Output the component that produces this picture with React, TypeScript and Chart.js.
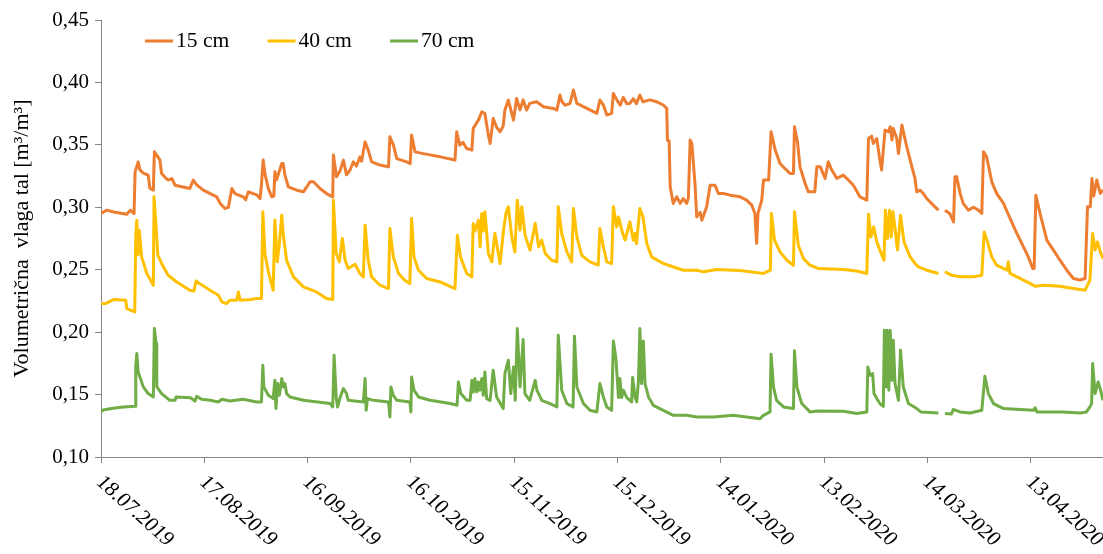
import React, { useEffect, useRef } from 'react';
import { Chart, registerables } from 'chart.js';

Chart.register(...registerables);

const seriesLabels = ['15 cm', '40 cm', '70 cm'];
const seriesColors = ['#ED7D31', '#FFC000', '#70AD47'];

// x tick labels, one every 30 days from 18.07.2019 (day 0)
const xTickLabels = [
  '18.07.2019', '17.08.2019', '16.09.2019', '16.10.2019', '15.11.2019',
  '15.12.2019', '14.01.2020', '13.02.2020', '14.03.2020', '13.04.2020',
];
const xTickStep = 30;
const xMin = 0;
const xMax = 291;
const yMin = 0.1;
const yMax = 0.45;
const yStep = 0.05;

// [day since 18.07.2019, volumetric moisture]
const depth15: [number, number | null][] = [
  [0, 0.295], [1.6, 0.2977], [4, 0.296], [7.5, 0.2945], [8.5, 0.2977], [9.6, 0.295], [9.9, 0.3284], [10.8, 0.3364], [11.3, 0.33], [12.3, 0.3274],
  [13.7, 0.3258], [14.2, 0.3153], [15.2, 0.3137], [15.5, 0.3444], [16.2, 0.3418], [17.1, 0.3378], [17.6, 0.3271], [18.6, 0.324], [19.5, 0.3218], [20.6, 0.323],
  [21.5, 0.3177], [25.8, 0.315], [26.8, 0.3218], [27.8, 0.318], [29.7, 0.3137], [33.6, 0.3084], [34.6, 0.3031], [36.0, 0.299], [37.0, 0.3], [38.0, 0.315],
  [38.9, 0.311], [41.3, 0.3084], [42.0, 0.306], [42.8, 0.3124], [45.2, 0.31], [46.2, 0.307], [46.6, 0.318], [47.1, 0.3378], [47.6, 0.327], [48.6, 0.315],
  [49.6, 0.3084], [50.2, 0.309], [50.5, 0.3284], [51.0, 0.322], [51.8, 0.329], [52.5, 0.3351], [52.9, 0.3351], [53.4, 0.326], [54.4, 0.3164], [56.8, 0.3137],
  [58.8, 0.3124], [60.7, 0.3204], [61.7, 0.3204], [63.6, 0.315], [65.5, 0.311], [67.3, 0.3084], [67.5, 0.3418], [68.4, 0.3244], [69.4, 0.329], [70.4, 0.3378],
  [71.3, 0.326], [72.3, 0.3297], [73.3, 0.3364], [74.2, 0.333], [75.2, 0.3404], [75.7, 0.337], [76.7, 0.3524], [77.6, 0.3458], [78.6, 0.3364], [81.0, 0.3338],
  [83.5, 0.3324], [83.9, 0.3565], [84.9, 0.35], [85.9, 0.339], [88.8, 0.3364], [89.8, 0.335], [90.2, 0.3578], [91.2, 0.3444], [93.6, 0.343], [98.5, 0.3404],
  [102.8, 0.3378], [103.3, 0.3605], [104.2, 0.3498], [105.1, 0.352], [106.2, 0.3471], [107.7, 0.3458], [108.1, 0.3632], [109.6, 0.3698], [110.6, 0.3765], [111.5, 0.375],
  [112.5, 0.3578], [113.0, 0.3511], [113.9, 0.3712], [114.9, 0.364], [115.9, 0.3605], [116.8, 0.365], [117.3, 0.3779], [118.3, 0.3859], [119.3, 0.375], [119.8, 0.3698],
  [120.7, 0.3872], [121.7, 0.378], [122.6, 0.386], [123.6, 0.3779], [124.5, 0.3832], [126.5, 0.3845], [128.5, 0.3805], [131.4, 0.3792], [132.4, 0.3779], [133.3, 0.3899],
  [133.8, 0.385], [134.8, 0.3818], [136.2, 0.383], [137.2, 0.3939], [138.2, 0.3832], [141.1, 0.3792], [144.0, 0.3752], [144.9, 0.3859], [145.9, 0.382], [146.9, 0.3739],
  [148.3, 0.3752], [148.8, 0.3912], [149.8, 0.386], [150.8, 0.3818], [151.7, 0.388], [152.7, 0.383], [153.6, 0.3832], [154.6, 0.387], [155.5, 0.383], [156.5, 0.3899],
  [157.4, 0.3845], [159.4, 0.386], [161.4, 0.3845], [163.3, 0.3819], [164.3, 0.3792], [164.5, 0.3538], [165.0, 0.353], [165.3, 0.3164], [166.2, 0.3031], [167.2, 0.3084],
  [168.2, 0.3031], [169.1, 0.307], [170.1, 0.3031], [170.6, 0.308], [171.1, 0.3538], [171.6, 0.351], [172.5, 0.3191], [173.0, 0.2923], [174.0, 0.296], [174.5, 0.2897],
  [175.9, 0.3004], [176.9, 0.3177], [178.3, 0.3177], [179.3, 0.3111], [180.8, 0.3111], [182.7, 0.3097], [185.6, 0.3084], [187.5, 0.3057], [189.0, 0.3017], [189.9, 0.2951],
  [190.4, 0.2711], [190.8, 0.2951], [191.9, 0.3057], [192.4, 0.3218], [193.9, 0.3218], [194.6, 0.3605], [195.8, 0.3458], [197.2, 0.3351], [198.6, 0.3311], [200.1, 0.3271],
  [201.1, 0.3271], [201.4, 0.3645], [202.3, 0.352], [203.0, 0.3324], [204.5, 0.3191], [205.4, 0.3124], [207.3, 0.3124], [207.9, 0.3324], [208.9, 0.3324], [210.3, 0.3231],
  [211.2, 0.3364], [212.2, 0.33], [213.7, 0.3231], [215.6, 0.3258], [217.0, 0.322], [218.5, 0.3177], [220.4, 0.3084], [222.4, 0.3057], [222.9, 0.3551], [223.8, 0.357],
  [224.3, 0.3511], [225.3, 0.3551], [226.2, 0.3378], [226.7, 0.3298], [227.7, 0.3618], [228.7, 0.3605], [229.2, 0.3645], [229.7, 0.3538], [230.1, 0.3632], [231.1, 0.3551],
  [231.6, 0.3431], [232.6, 0.3658], [234.0, 0.3485], [235.5, 0.3324], [236.4, 0.3231], [236.9, 0.3124], [237.9, 0.3137], [238.8, 0.311], [239.8, 0.3071], [241.7, 0.3017],
  [243.2, 0.2977], [244, null], [245.1, 0.2977], [246.5, 0.295], [247.6, 0.2883], [248.0, 0.3244], [248.5, 0.3244], [249.5, 0.3111], [250.4, 0.3031], [251.9, 0.2977],
  [253.4, 0.3], [254.8, 0.2977], [255.8, 0.2951], [256.3, 0.3444], [257.2, 0.3404], [258.7, 0.3204], [260.1, 0.3111], [262.1, 0.3031], [264.0, 0.2911], [266.0, 0.279],
  [267.9, 0.2683], [269.3, 0.2603], [270.6, 0.251], [271.0, 0.251], [271.5, 0.3097], [272.7, 0.2951], [274.7, 0.2737], [276.6, 0.2657], [278.5, 0.2576], [280.5, 0.2496],
  [282.4, 0.243], [284.3, 0.2418], [285.8, 0.243], [286.5, 0.3004], [287.3, 0.3004], [287.8, 0.3231], [288.3, 0.309], [289.2, 0.3218], [290.2, 0.3111], [291, 0.314],
];

const depth40: [number, number | null][] = [
  [0, 0.2229], [1.5, 0.223], [3.6, 0.2261], [7.2, 0.2255], [7.5, 0.2189], [9.8, 0.2162], [10.1, 0.2777], [10.4, 0.2897], [10.8, 0.262], [11.1, 0.2817],
  [11.8, 0.2603], [13.3, 0.247], [15.2, 0.2376], [15.4, 0.3084], [16.0, 0.285], [16.5, 0.2616], [17.6, 0.255], [19.5, 0.2456], [22.0, 0.2402], [25.8, 0.2336],
  [27.0, 0.233], [27.6, 0.241], [28.6, 0.2389], [31.7, 0.2336], [34.1, 0.2296], [35.1, 0.2242], [36.5, 0.2229], [37.4, 0.2256], [39.4, 0.2256], [39.9, 0.2322],
  [40.4, 0.2256], [43.5, 0.2262], [45.2, 0.2269], [46.6, 0.2269], [47.0, 0.2964], [47.6, 0.263], [48.6, 0.2483], [50.0, 0.2336], [50.5, 0.2897], [51.2, 0.2563],
  [51.8, 0.271], [52.5, 0.2937], [52.9, 0.279], [53.9, 0.2576], [55.9, 0.2443], [58.8, 0.2363], [62.6, 0.2322], [65.5, 0.2269], [67.3, 0.2261], [67.5, 0.3057],
  [68.3, 0.263], [69.2, 0.2563], [70.1, 0.275], [70.9, 0.2576], [71.8, 0.251], [73.8, 0.2544], [75.2, 0.247], [76.2, 0.2443], [76.7, 0.2857], [77.6, 0.2576],
  [78.6, 0.2443], [81.0, 0.2376], [83.5, 0.2349], [83.9, 0.283], [84.9, 0.2603], [86.4, 0.247], [88.2, 0.2416], [89.7, 0.2389], [90.2, 0.2911], [90.9, 0.2603],
  [92.2, 0.2496], [94.6, 0.243], [98.5, 0.2402], [102.8, 0.2349], [103.5, 0.2777], [104.4, 0.2603], [106.2, 0.247], [107.7, 0.2443], [108.1, 0.2871], [108.6, 0.281],
  [109.6, 0.2897], [110.1, 0.2683], [110.6, 0.2951], [111.0, 0.281], [111.5, 0.2964], [112.5, 0.263], [113.5, 0.2563], [114.4, 0.279], [114.9, 0.271], [115.9, 0.255],
  [116.9, 0.2817], [117.6, 0.2951], [118.3, 0.3004], [119.3, 0.2763], [120.2, 0.2643], [120.9, 0.3057], [121.7, 0.2817], [122.2, 0.3004], [123.1, 0.279], [123.6, 0.2737],
  [124.6, 0.2657], [126.1, 0.2871], [127.1, 0.2683], [128.0, 0.2737], [129.0, 0.263], [130.9, 0.2576], [132.4, 0.2563], [132.8, 0.3004], [133.8, 0.279], [135.3, 0.2643],
  [136.7, 0.2563], [137.2, 0.299], [138.2, 0.2763], [139.6, 0.2616], [142.0, 0.2563], [144.4, 0.2536], [144.9, 0.283], [145.9, 0.2683], [146.9, 0.2563], [148.3, 0.255],
  [148.8, 0.3004], [149.8, 0.2843], [150.3, 0.2923], [151.3, 0.281], [152.2, 0.2737], [153.6, 0.2883], [154.6, 0.2737], [155.1, 0.279], [155.5, 0.271], [156.5, 0.299],
  [157.4, 0.2923], [158.5, 0.2711], [159.9, 0.2603], [163.3, 0.255], [169.1, 0.2496], [173.0, 0.2496], [175.0, 0.2483], [178.8, 0.2501], [185.6, 0.2493], [192.4, 0.247],
  [194.4, 0.2496], [194.7, 0.2951], [195.6, 0.2737], [197.2, 0.2643], [199.2, 0.2576], [201.1, 0.2536], [201.4, 0.2964], [202.5, 0.2697], [204.0, 0.259], [205.9, 0.2536],
  [208.3, 0.251], [215.6, 0.2501], [219.5, 0.249], [222.4, 0.247], [222.9, 0.2945], [223.6, 0.2763], [224.4, 0.2843], [225.3, 0.2723], [226.2, 0.2657], [227.4, 0.2576],
  [227.8, 0.2977], [228.4, 0.275], [229.0, 0.2977], [229.5, 0.2763], [230.0, 0.2964], [230.7, 0.281], [231.3, 0.2657], [232.2, 0.2937], [233.2, 0.2723], [235.0, 0.2603],
  [236.4, 0.255], [237.4, 0.2523], [239.8, 0.2496], [243.2, 0.247], [244, null], [245.1, 0.2483], [247.0, 0.2456], [249.5, 0.2443], [253.4, 0.2443], [255.8, 0.2456],
  [256.5, 0.2803], [257.3, 0.2737], [258.7, 0.2603], [260.1, 0.2536], [263.1, 0.2496], [263.5, 0.2563], [264.0, 0.247], [266.0, 0.2443], [268.9, 0.2402], [271.3, 0.2368],
  [273.8, 0.2376], [278.5, 0.2368], [282.4, 0.2349], [285.8, 0.2336], [287.2, 0.2416], [288.0, 0.279], [288.7, 0.2657], [289.4, 0.2723], [290.2, 0.2643], [291, 0.259],
];

const depth70: [number, number | null][] = [
  [0, 0.1361], [0.6, 0.1377], [3.5, 0.139], [6.5, 0.1401], [9.9, 0.1406], [10.1, 0.1734], [10.4, 0.1828], [10.8, 0.168], [11.3, 0.1641], [12.3, 0.1561],
  [13.7, 0.1508], [15.2, 0.1481], [15.5, 0.2029], [16.0, 0.1909], [16.2, 0.1561], [17.6, 0.1508], [20.0, 0.1454], [21.5, 0.1454], [21.8, 0.1481], [26.0, 0.1475],
  [27.3, 0.1447], [27.8, 0.1486], [29.2, 0.1462], [31.7, 0.1454], [34.1, 0.1441], [35.1, 0.1462], [37.5, 0.1449], [41.3, 0.1462], [45.2, 0.1441], [46.6, 0.1441],
  [47.0, 0.1734], [47.3, 0.1561], [48.6, 0.1494], [50.0, 0.1468], [50.5, 0.1614], [50.8, 0.1388], [51.3, 0.1588], [51.8, 0.1494], [52.5, 0.1628], [53.0, 0.1561],
  [53.4, 0.1588], [53.9, 0.1508], [54.9, 0.1481], [58.8, 0.1454], [66.5, 0.1428], [67.3, 0.1401], [67.7, 0.1815], [68.3, 0.1481], [68.7, 0.1401], [69.5, 0.1481],
  [70.4, 0.1548], [71.3, 0.1508], [71.8, 0.1454], [76.2, 0.1441], [76.7, 0.1628], [77.0, 0.1374], [77.4, 0.1468], [79.1, 0.1454], [83.5, 0.1441], [83.9, 0.1321],
  [84.2, 0.1561], [84.9, 0.1494], [85.9, 0.1454], [89.7, 0.1441], [90.0, 0.1361], [90.2, 0.1641], [90.9, 0.1535], [92.2, 0.1481], [95.6, 0.1454], [101.4, 0.1428],
  [103.4, 0.1414], [103.8, 0.1601], [104.5, 0.1508], [106.2, 0.1454], [107.2, 0.1454], [107.7, 0.1614], [108.1, 0.1521], [108.6, 0.1628], [109.1, 0.1521], [109.6, 0.1601],
  [110.0, 0.1535], [110.6, 0.1628], [111.0, 0.1494], [111.5, 0.1681], [112.0, 0.1468], [113.0, 0.1454], [113.9, 0.1695], [114.9, 0.1481], [116.8, 0.1388], [117.3, 0.1668],
  [118.3, 0.1775], [119.0, 0.1508], [119.8, 0.1721], [120.3, 0.1454], [120.9, 0.2029], [121.7, 0.1561], [122.6, 0.1941], [123.1, 0.1508], [124.5, 0.1454], [126.1, 0.1614],
  [126.6, 0.1535], [128.0, 0.1454], [130.4, 0.1428], [132.4, 0.1401], [132.8, 0.1975], [133.8, 0.1535], [135.3, 0.1428], [137.1, 0.1401], [137.5, 0.1968], [138.2, 0.1561],
  [140.1, 0.1428], [142.0, 0.1374], [144.0, 0.1361], [144.9, 0.1588], [145.9, 0.1481], [146.9, 0.1401], [148.3, 0.1374], [148.8, 0.1929], [149.5, 0.18], [150.3, 0.1476],
  [150.7, 0.1628], [151.2, 0.1476], [151.7, 0.1535], [152.7, 0.1476], [154.1, 0.1441], [154.4, 0.1636], [155.1, 0.1481], [155.6, 0.1441], [156.1, 0.1614], [156.5, 0.2029],
  [157.0, 0.1588], [157.5, 0.1929], [158.0, 0.1588], [159.0, 0.1481], [160.4, 0.1414], [163.3, 0.1374], [166.2, 0.1334], [170.1, 0.1334], [173.0, 0.1321], [178.0, 0.1321],
  [183.6, 0.1334], [187.5, 0.1321], [191.4, 0.1307], [192.4, 0.1334], [194.3, 0.1361], [194.6, 0.1823], [195.3, 0.1561], [196.2, 0.1454], [198.2, 0.1401], [201.1, 0.1388],
  [201.4, 0.185], [202.1, 0.1561], [203.5, 0.1428], [205.9, 0.1361], [207.9, 0.1368], [215.6, 0.1366], [219.5, 0.1348], [222.4, 0.1361], [222.7, 0.1721], [223.4, 0.1654],
  [224.1, 0.1668], [224.5, 0.1508], [225.3, 0.1468], [226.2, 0.1428], [227.2, 0.1406], [227.5, 0.2015], [228.0, 0.1561], [228.3, 0.2015], [228.8, 0.1535], [229.2, 0.2015],
  [229.7, 0.1614], [230.1, 0.1935], [230.6, 0.1588], [231.6, 0.1454], [232.2, 0.1855], [233.0, 0.1561], [234.5, 0.1428], [236.9, 0.1388], [238.1, 0.1361], [243.2, 0.1353],
  [244, null], [245.1, 0.1348], [247.0, 0.1344], [247.5, 0.1381], [249.5, 0.1361], [252.4, 0.1353], [255.8, 0.1374], [256.7, 0.1647], [257.7, 0.1508], [259.2, 0.1428],
  [262.1, 0.1388], [266.9, 0.138], [270.8, 0.1374], [271.3, 0.1394], [271.8, 0.1361], [279.5, 0.1361], [284.3, 0.1353], [286.2, 0.1361], [287.2, 0.1401], [287.7, 0.1428],
  [288.0, 0.1748], [288.7, 0.1508], [289.6, 0.1601], [290.3, 0.1535], [291, 0.1454],
];

const seriesData = [depth15, depth40, depth70];

const FONT = '"Liberation Serif", "Times New Roman", serif';
const AXIS_COLOR = '#868686';

const textPlugin = {
  id: 'customText',
  afterDraw(chart: any) {
    const { ctx, chartArea, scales } = chart;
    const xs = scales.x;
    ctx.save();
    ctx.fillStyle = '#000';
    // rotated x tick labels (clockwise)
    ctx.font = `20px ${FONT}`;
    ctx.textAlign = 'left';
    ctx.textBaseline = 'alphabetic';
    xs.ticks.forEach((t: any) => {
      const idx = Math.round((t.value - xMin) / xTickStep);
      const label = xTickLabels[idx];
      if (!label) return;
      const x = xs.getPixelForValue(t.value);
      ctx.save();
      ctx.translate(x - 6, chartArea.bottom + 26);
      ctx.scale(1.12, 1);
      ctx.rotate(Math.PI / 4);
      ctx.fillText(label, 0, 0);
      ctx.restore();
    });
    // legend inside the plot
    ctx.font = `20px ${FONT}`;
    ctx.textBaseline = 'middle';
    const ly = chartArea.top + 21;
    chart.data.datasets.forEach((ds: any, i: number) => {
      const lx = chartArea.left + 44 + i * 122.5;
      ctx.strokeStyle = ds.borderColor;
      ctx.lineWidth = 3;
      ctx.beginPath();
      ctx.moveTo(lx, ly);
      ctx.lineTo(lx + 28, ly);
      ctx.stroke();
      ctx.save();
      ctx.translate(lx + 31, ly + 1);
      ctx.scale(1.08, 1);
      ctx.fillText(ds.label, 0, 0);
      ctx.restore();
    });
    ctx.restore();
  },
};

export default function App() {
  const ref = useRef<HTMLCanvasElement | null>(null);
  useEffect(() => {
    if (!ref.current) return;
    const chart = new Chart(ref.current, {
      type: 'line',
      data: {
        datasets: seriesData.map((d, i) => ({
          label: seriesLabels[i],
          data: d as any,
          borderColor: seriesColors[i],
          backgroundColor: seriesColors[i],
          borderWidth: 3,
          pointRadius: 0,
          tension: 0,
          spanGaps: false,
          borderJoinStyle: 'round' as const,
        })),
      },
      options: {
        animation: false,
        responsive: true,
        maintainAspectRatio: false,
        devicePixelRatio: 1,
        layout: { padding: { top: 20, right: 0, bottom: 0, left: 0 } },
        plugins: { legend: { display: false }, tooltip: { enabled: false } },
        scales: {
          x: {
            type: 'linear',
            min: xMin,
            max: xMax,
            ticks: { display: false, stepSize: xTickStep, includeBounds: false },
            grid: { drawOnChartArea: false, drawTicks: true, tickLength: 6, color: AXIS_COLOR },
            border: { display: true, color: AXIS_COLOR, width: 1 },
            afterFit: (s: any) => { s.height = 97; },
          },
          y: {
            type: 'linear',
            min: yMin,
            max: yMax,
            ticks: {
              stepSize: yStep,
              padding: 6,
              color: '#000',
              font: { family: FONT, size: 21 },
              callback: (v: any) => Number(v).toFixed(2).replace('.', ','),
            },
            title: {
              display: true,
              text: 'Volumetrična  vlaga tal [m³/m³]',
              color: '#000',
              font: { family: FONT, size: 22 },
              padding: { top: 9, bottom: 0 },
            },
            grid: { drawOnChartArea: false, drawTicks: true, tickLength: 6, color: AXIS_COLOR },
            border: { display: true, color: AXIS_COLOR, width: 1 },
            afterFit: (s: any) => { s.width = 101; },
          },
        },
      },
      plugins: [textPlugin],
    });
    return () => chart.destroy();
  }, []);
  return (
    <div style={{ position: 'absolute', left: 0, top: 0, width: 1103, height: 554, background: '#fff' }}>
      <canvas ref={ref} />
    </div>
  );
}
